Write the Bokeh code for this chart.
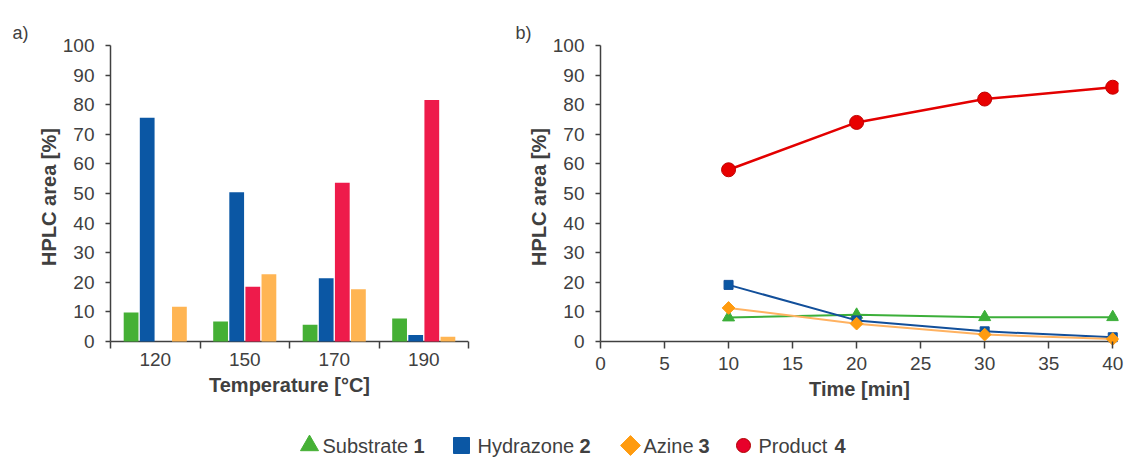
import numpy as np
from bokeh.plotting import figure
from bokeh.layouts import column, row
from bokeh.models import Range1d, FixedTicker, SingleIntervalTicker
from bokeh.core.properties import value
from bokeh.embed import file_html
from bokeh.resources import INLINE

# ---------------- data ----------------
temperatures = ["120", "150", "170", "190"]
bar_substrate = [9.8, 6.7, 5.6, 7.7]
bar_hydrazone = [75.6, 50.4, 21.3, 2.2]
bar_product = [0.0, 18.5, 53.6, 81.6]
bar_azine = [11.7, 22.7, 17.6, 1.6]

times = [10, 20, 30, 40]
line_substrate = [8.1, 9.0, 8.2, 8.2]
line_hydrazone = [19.1, 7.1, 3.4, 1.4]
line_azine = [11.3, 6.0, 2.3, 0.8]
line_product = [58.0, 74.0, 81.9, 85.9]

legend_names = ["Substrate", "Hydrazone", "Azine", "Product"]
legend_numbers = ["1", "2", "3", "4"]

# ---------------- style ----------------
FONT = "Liberation Sans"
TXT = "#404040"
AX = "#404040"
GREEN = "#45B035"
BLUE = "#0B57A4"
RED_BAR = "#EE1B4B"
ORANGE_BAR = "#FFB553"
RED = "#E30000"
ORANGE_LINE = "#FFB261"
ORANGE_MK = "#FF9B0F"
GREEN_LINE = "#3CAF3A"
BLUE_LINE = "#124F9A"

Y_BOUNDS = (0, 100)
Y_PAD = -2.4          # room below 0 so markers near 0 are not clipped
TIME_BOUNDS = (0, 40)
CAT_BOUNDS = (0, len(temperatures))


def style(p, panel_title, title_offset):
    p.xgrid.visible = False
    p.ygrid.visible = False
    p.outline_line_color = None
    p.background_fill_color = "white"
    p.border_fill_color = "white"
    p.title.text = panel_title
    p.title.align = "left"
    p.title.offset = title_offset
    p.title.text_font = FONT
    p.title.text_font_size = "18px"
    p.title.text_font_style = "normal"
    p.title.text_color = TXT
    p.title.standoff = 5
    for ax in p.axis:
        ax.axis_line_color = AX
        ax.axis_line_width = 1.5
        ax.major_tick_line_color = AX
        ax.major_tick_line_width = 1.5
        ax.major_tick_in = 0
        ax.minor_tick_in = 0
        ax.minor_tick_line_color = None
        ax.major_label_text_font = FONT
        ax.major_label_text_font_size = "19px"
        ax.major_label_text_color = TXT
        ax.axis_label_text_font = FONT
        ax.axis_label_text_font_size = "20px"
        ax.axis_label_text_font_style = "bold"
        ax.axis_label_text_color = TXT
    ya = p.yaxis[0]
    ya.ticker = SingleIntervalTicker(interval=10)
    ya.bounds = Y_BOUNDS
    ya.major_tick_out = 5
    ya.major_label_standoff = 11
    ya.axis_label = "HPLC area [%]"
    ya.axis_label_standoff = 0
    xa = p.xaxis[0]
    xa.axis_line_color = None      # drawn at y = 0 instead
    xa.major_label_standoff = 4
    xa.axis_label_standoff = 5


# ---------------- left: bars ----------------
p1 = figure(width=508, height=418, x_range=Range1d(*CAT_BOUNDS),
            y_range=Range1d(Y_PAD, Y_BOUNDS[1]), output_backend="svg",
            toolbar_location=None, min_border_left=110, min_border_right=40,
            min_border_top=45, min_border_bottom=70)
style(p1, "a)", -98)

p1.line(x=list(CAT_BOUNDS), y=[0, 0], line_color=AX, line_width=1.5)

idx = np.arange(len(temperatures)) + 0.5
bw = 0.165
for off, vals, col in [(-0.27, bar_substrate, GREEN), (-0.09, bar_hydrazone, BLUE),
                       (0.09, bar_product, RED_BAR), (0.27, bar_azine, ORANGE_BAR)]:
    p1.vbar(x=idx + off, bottom=0, top=vals, width=bw, color=col, line_color=None)

xa = p1.xaxis[0]
xa.ticker = FixedTicker(ticks=list(idx), minor_ticks=list(range(len(temperatures) + 1)))
xa.major_label_overrides = {float(i): t for i, t in zip(idx, temperatures)}
xa.major_tick_out = 0
xa.major_tick_in = 0
xa.major_tick_line_color = None
xa.minor_tick_out = 0
xa.minor_tick_in = 7
xa.minor_tick_line_color = AX
xa.minor_tick_line_width = 1.5
xa.axis_label = "Temperature [°C]"

# ---------------- right: lines ----------------
p2 = figure(width=621, height=418, x_range=Range1d(0, 40.45),
            y_range=Range1d(Y_PAD, Y_BOUNDS[1]), output_backend="svg",
            toolbar_location=None, min_border_left=92, min_border_right=11,
            min_border_top=45, min_border_bottom=70)
style(p2, "b)", -85)

xb = p2.xaxis[0]
xb.ticker = SingleIntervalTicker(interval=5)
xb.bounds = TIME_BOUNDS
xb.major_tick_out = 0
xb.major_tick_in = 7
xb.axis_label = "Time [min]"

p2.line(x=list(TIME_BOUNDS), y=[0, 0], line_color=AX, line_width=1.5)

p2.line(times, line_substrate, line_color=GREEN_LINE, line_width=2)
p2.scatter(times, line_substrate, marker="triangle", size=12, fill_color=GREEN_LINE,
           line_color=GREEN_LINE)
p2.line(times, line_hydrazone, line_color=BLUE_LINE, line_width=2)
p2.scatter(times, line_hydrazone, marker="square", size=9, fill_color=BLUE,
           line_color=BLUE_LINE)
p2.line(times, line_azine, line_color=ORANGE_LINE, line_width=2)
p2.scatter(times, line_azine, marker="square", angle=np.pi / 4, size=9,
           fill_color=ORANGE_MK, line_color=ORANGE_MK)
p2.line(times, line_product, line_color=RED, line_width=2.5)
p2.scatter(times, line_product, marker="circle", size=14, fill_color="#E80000",
           line_color="#C00000", line_width=1)

# ---------------- legend ----------------
W = 1129
H = 41
p3 = figure(width=W, height=H, x_range=Range1d(0, W), y_range=Range1d(0, H),
            output_backend="svg", toolbar_location=None, min_border=0,
            x_axis_location=None, y_axis_location=None)
p3.xgrid.visible = False
p3.ygrid.visible = False
p3.outline_line_color = None

yc = 14
marker_x = [309, 461, 630, 743]
name_x = [322, 477, 643, 758]
num_x = [413, 579, 698, 834]
markers = [("triangle", 18, 0.0, GREEN, GREEN), ("square", 16, 0.0, BLUE, BLUE),
           ("square", 14, np.pi / 4, ORANGE_MK, ORANGE_MK),
           ("circle", 14, 0.0, "#E8002A", "#B00000")]
for (mk, sz, ang, fc, lc), mx in zip(markers, marker_x):
    p3.scatter([mx], [yc], marker=mk, size=sz, angle=ang, fill_color=fc, line_color=lc)
p3.text(x=name_x, y=[yc] * 4, text=legend_names, text_baseline="middle",
        text_font=value(FONT), text_font_size="20px", text_color=TXT)
p3.text(x=num_x, y=[yc] * 4, text=legend_numbers, text_baseline="middle",
        text_font=value(FONT), text_font_size="20px", text_font_style="bold",
        text_color=TXT)

layout = column(row(p1, p2), p3)
open("out.html", "w").write(file_html(layout, INLINE))
